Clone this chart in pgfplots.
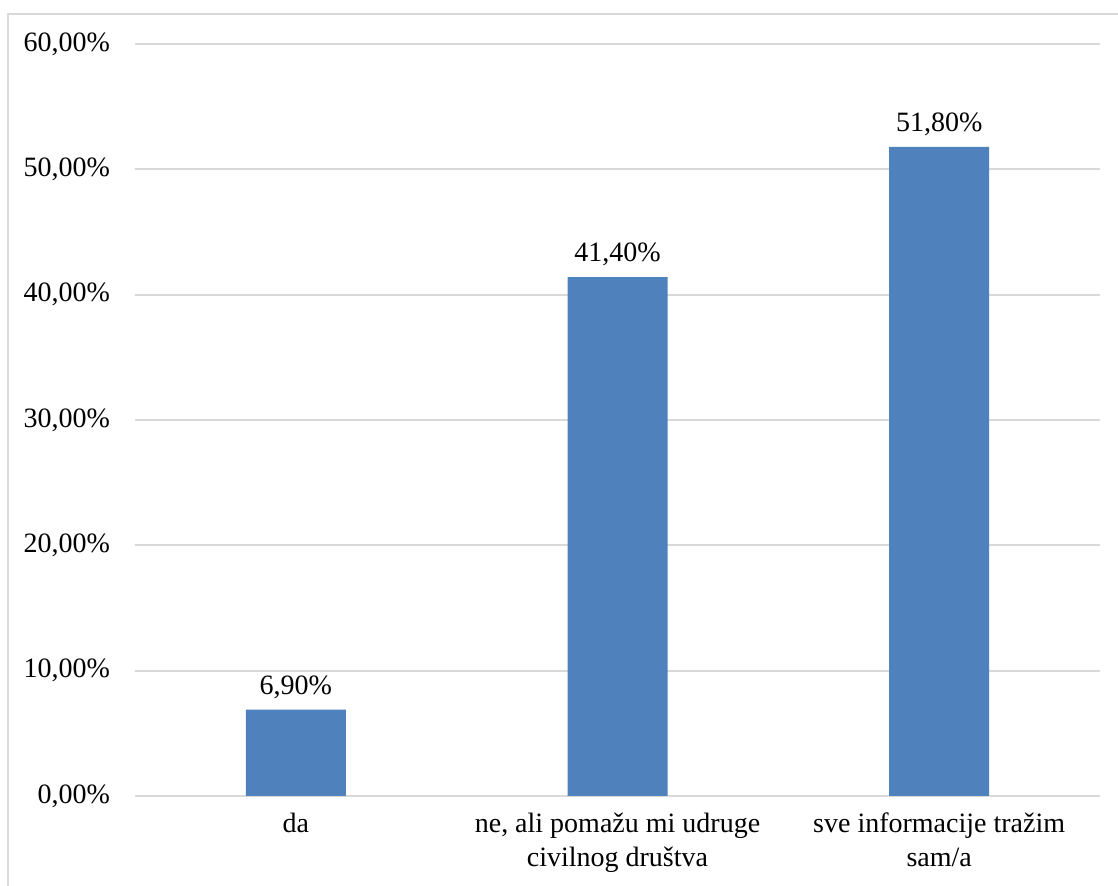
\documentclass[border=0pt]{standalone}
\usepackage{pgfplots}
\pgfplotsset{compat=1.18}
\usepackage{fontspec}
\setmainfont{Liberation Serif}
\definecolor{barblue}{HTML}{4F81BD}
\definecolor{gridgray}{HTML}{D9D9D9}
\begin{document}
\begin{tikzpicture}
\path[use as bounding box] (0,0) rectangle (559pt,443pt);
\draw[gridgray, line width=1pt] (4pt,-20pt) -- (4pt,436pt) -- (620pt,436pt);
\begin{axis}[
  at={(67.5pt,45pt)}, anchor=south west,
  scale only axis,
  width=482.5pt, height=376pt,
  xmin=-0.5, xmax=2.5,
  ymin=0, ymax=60,
  axis line style={draw=none},
  ymajorgrids,
  grid style={gridgray, line width=1pt},
  ytick={0,10,...,60},
  xtick={0,1,2},
  xticklabels={da, {ne, ali pomažu mi udruge\\civilnog društva}, {sve informacije tražim\\sam/a}},
  major tick length=0pt,
  tick style={draw=none},
  /pgf/number format/.cd, use comma, fixed, fixed zerofill, precision=2, assume math mode=true,
  /pgfplots/.cd,
  yticklabel={\pgfmathprintnumber{\tick}\%},
  tick label style={font=\fontsize{14pt}{17pt}\selectfont, text=black},
  yticklabel style={xshift=-9pt},
  xticklabel style={align=center, yshift=-5pt},
  ybar, bar width=50pt,
  nodes near coords,
  point meta=explicit symbolic,
  every node near coord/.append style={font=\fontsize{14pt}{17pt}\selectfont, text=black, yshift=2pt},
  clip=false,
]
\addplot[fill=barblue, draw=none] coordinates {(0,6.9) [6,90\%] (1,41.4) [41,40\%] (2,51.8) [51,80\%]};
\end{axis}
\end{tikzpicture}
\end{document}
